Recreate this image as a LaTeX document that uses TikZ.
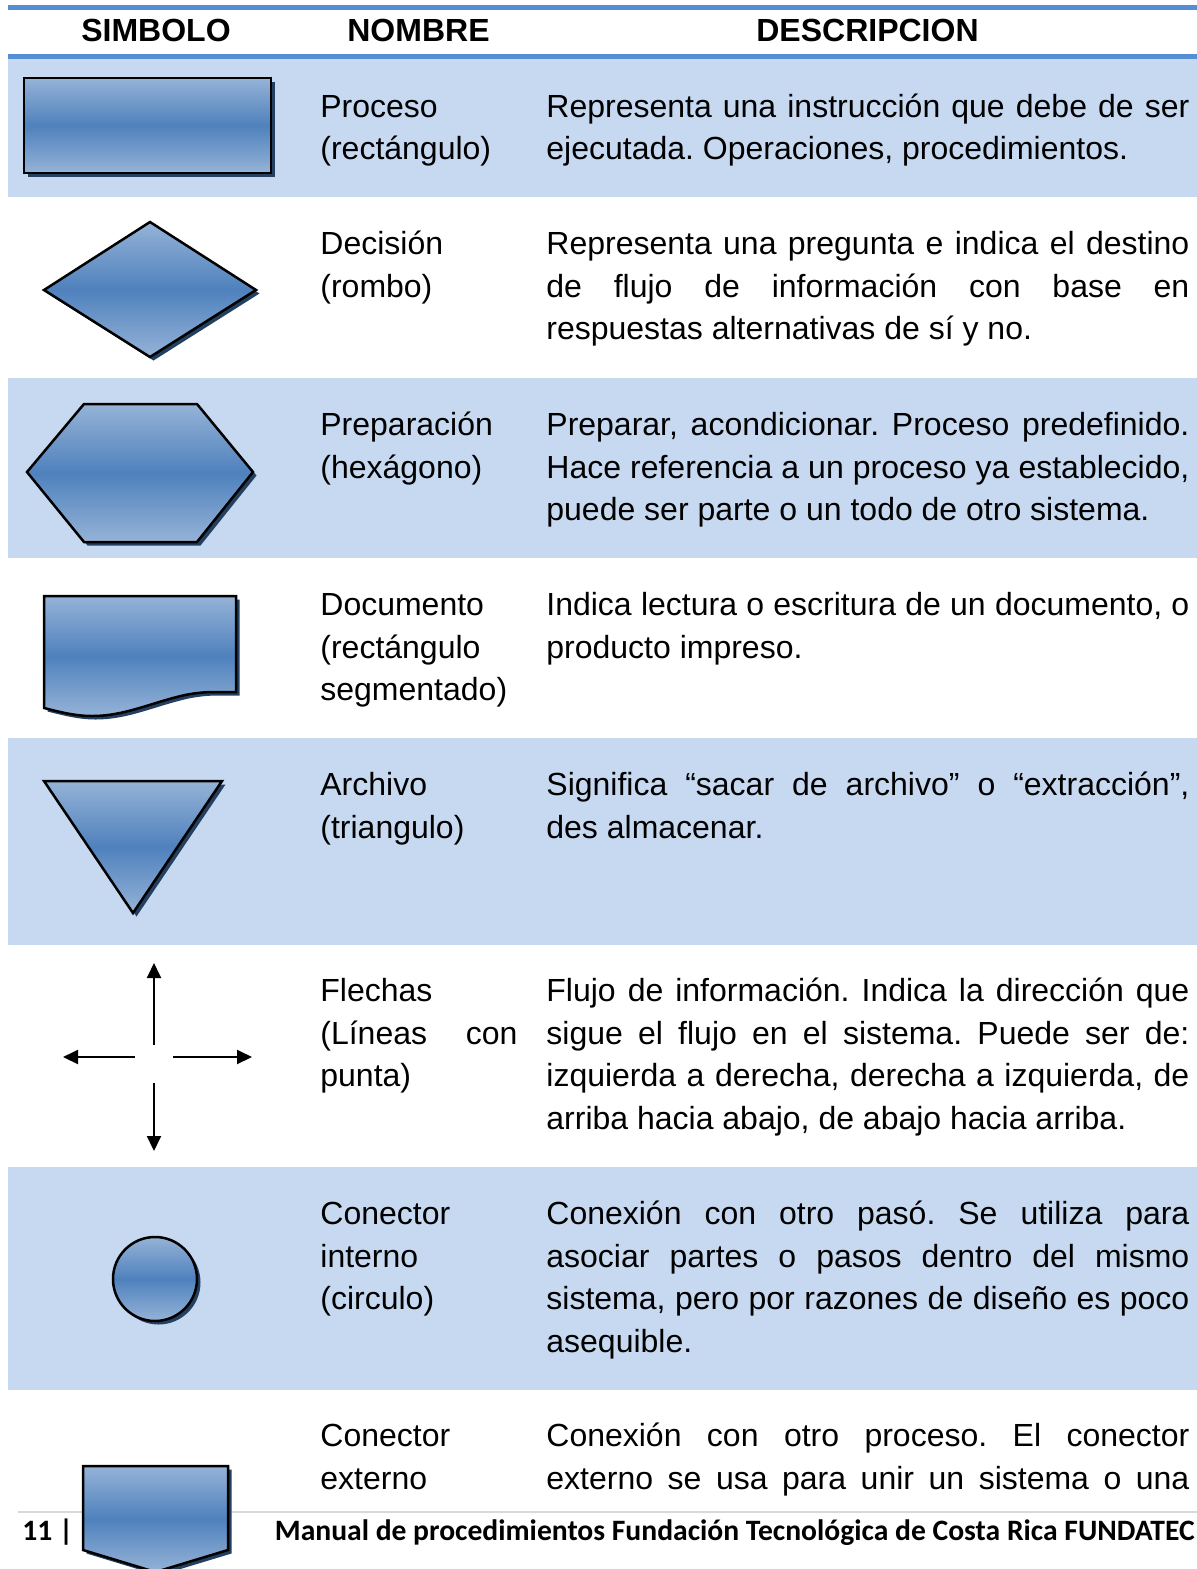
\documentclass[tikz,border=0pt]{standalone}
\usepackage{fontspec}
\setmainfont{Liberation Sans}
\newfontfamily\calibrifont{Carlito}
\usetikzlibrary{arrows.meta}
\definecolor{hdrblue}{RGB}{85,142,213}
\definecolor{bandblue}{RGB}{198,217,241}
\definecolor{shlight}{RGB}{149,179,215}
\definecolor{shdark}{RGB}{79,129,189}
\definecolor{shadowc}{RGB}{36,64,97}
\definecolor{footgrey}{RGB}{217,217,217}
\newcommand{\looseparams}{\tolerance=10000 \hyphenpenalty=10000 \frenchspacing}
\tikzset{
  bandrow/.style={fill=bandblue},
  hdrline/.style={draw=hdrblue, line width=2.5pt},
  symb/.style={draw=black, line width=1.25pt, line join=miter, top color=shlight, bottom color=shlight, middle color=shdark},
  shadowfill/.style={fill=shadowc, shift={(3.5,3.5)}},
  arr/.style={line width=1pt, -{Triangle[length=7.5pt,width=7pt]}},
  hdrtext/.style={anchor=base, inner sep=0pt, font=\fontsize{16}{19}\selectfont\bfseries},
  namecol/.style={anchor=base west, inner sep=0pt, text width=98.5pt, align=justify,
    font=\fontsize{16}{21.25}\selectfont, execute at begin node=\looseparams},
  desccol/.style={anchor=base west, inner sep=0pt, text width=321.5pt, align=justify,
    font=\fontsize{16}{21.25}\selectfont, execute at begin node=\looseparams},
  foottext/.style={inner sep=0pt, font=\calibrifont\bfseries\fontsize{14.8}{17}\selectfont}
}
\begin{document}
\begin{tikzpicture}[x=0.5pt,y=-0.5pt]
\useasboundingbox (0,0) rectangle (1197,1569);
\clip (0,0) rectangle (1197,1569);
\fill[white] (0,0) rectangle (1197,1569);
% bands
\fill[bandrow] (8,58) rectangle (1197,197);
\fill[bandrow] (8,378) rectangle (1197,558);
\fill[bandrow] (8,738) rectangle (1197,945);
\fill[bandrow] (8,1167) rectangle (1197,1390);
% header lines
\draw[hdrline] (8,7.5) -- (1197,7.5);
\draw[hdrline] (8,56) -- (1197,56);
% header text
\node[hdrtext] (hs) at (156,41.5) {SIMBOLO};
\node[hdrtext] (hn) at (418.5,41.5) {NOMBRE};
\node[hdrtext] (hd) at (867.5,41.5) {DESCRIPCION};
% footer line
\draw[footgrey, line width=1pt] (18,1512) -- (1197,1512);
% 1 rectangle
\fill[shadowfill] (24,78) rectangle (271,173);
\draw[symb] (24,78) rectangle (271,173);
% 2 diamond
\fill[shadowfill] (44,290) -- (150,222) -- (256,290) -- (150,357) -- cycle;
\draw[symb] (44,290) -- (150,222) -- (256,290) -- (150,357) -- cycle;
% 3 hexagon
\fill[shadowfill] (27,472) -- (84,404) -- (197,404) -- (253,472) -- (197,542) -- (84,542) -- cycle;
\draw[symb] (27,472) -- (84,404) -- (197,404) -- (253,472) -- (197,542) -- (84,542) -- cycle;
% 4 document
\fill[shadowfill] (44,596) -- (236,596) -- (236,692) -- (215,692) .. controls (205,692) and (195,693) .. (185,695) .. controls (150,703) and (125,716) .. (92,716) .. controls (75,716) and (60,712) .. (44,708) -- cycle;
\draw[symb] (44,596) -- (236,596) -- (236,692) -- (215,692) .. controls (205,692) and (195,693) .. (185,695) .. controls (150,703) and (125,716) .. (92,716) .. controls (75,716) and (60,712) .. (44,708) -- cycle;
% 5 triangle
\fill[shadowfill] (44,781) -- (222,781) -- (133,913) -- cycle;
\draw[symb] (44,781) -- (222,781) -- (133,913) -- cycle;
% 6 arrows
\coordinate (upA) at (154,1045);
\coordinate (upB) at (154,963);
\coordinate (dnA) at (154,1083);
\coordinate (dnB) at (154,1151);
\coordinate (lfA) at (135,1057);
\coordinate (lfB) at (63,1057);
\coordinate (rtA) at (173,1057);
\coordinate (rtB) at (252,1057);
\draw[arr] (upA) -- (upB);
\draw[arr] (dnA) -- (dnB);
\draw[arr] (lfA) -- (lfB);
\draw[arr] (rtA) -- (rtB);
% 7 circle
\fill[shadowfill] (155,1279) circle[radius=42];
\draw[symb] (155,1279) circle[radius=42];
% 8 off-page connector
\fill[shadowfill] (83,1466) -- (228,1466) -- (228,1550) -- (155.5,1572) -- (83,1550) -- cycle;
\draw[symb] (83,1466) -- (228,1466) -- (228,1550) -- (155.5,1572) -- (83,1550) -- cycle;
% names
\node[namecol] (n1) at (320,117) {Proceso\newline (rectángulo)};
\node[namecol] (n2) at (320,254.5) {Decisión\newline (rombo)};
\node[namecol] (n3) at (320,435.5) {Preparación\newline (hexágono)};
\node[namecol] (n4) at (320,615.5) {Documento\newline (rectángulo\newline segmentado)};
\node[namecol] (n5) at (320,795.5) {Archivo\newline (triangulo)};
\node[namecol] (n6) at (320,1001.5) {Flechas\newline (Líneas con\linebreak punta)};
\node[namecol] (n7) at (320,1224.5) {Conector\newline interno\newline (circulo)};
\node[namecol] (n8) at (320,1446.5) {Conector\newline externo};
% descriptions
\node[desccol] (d1) at (546,117) {Representa una instrucción que debe de ser\linebreak ejecutada. Operaciones, procedimientos.};
\node[desccol] (d2) at (546,254.5) {Representa una pregunta e indica el destino\linebreak de flujo de información con base en\linebreak respuestas alternativas de sí y no.};
\node[desccol] (d3) at (546,435.5) {Preparar, acondicionar. Proceso predefinido.\linebreak Hace referencia a un proceso ya establecido,\linebreak puede ser parte o un todo de otro sistema.};
\node[desccol] (d4) at (546,615.5) {Indica lectura o escritura de un documento, o\linebreak producto impreso.};
\node[desccol] (d5) at (546,795.5) {Significa “sacar de archivo” o “extracción”,\linebreak des almacenar.};
\node[desccol] (d6) at (546,1001.5) {Flujo de información. Indica la dirección que\linebreak sigue el flujo en el sistema. Puede ser de:\linebreak izquierda a derecha, derecha a izquierda, de\linebreak arriba hacia abajo, de abajo hacia arriba.};
\node[desccol] (d7) at (546,1224.5) {Conexión con otro pasó. Se utiliza para\linebreak asociar partes o pasos dentro del mismo\linebreak sistema, pero por razones de diseño es poco\linebreak asequible.};
\node[desccol] (d8) at (546,1446.5) {Conexión con otro proceso. El conector\linebreak externo se usa para unir un sistema o una\parfillskip=0pt\par};
% footer
\node[foottext, anchor=base west] (pg) at (22,1540) {11 |};
\node[foottext, anchor=base east] (ft) at (1195,1540) {Manual de procedimientos Fundación Tecnológica de Costa Rica FUNDATEC};
\end{tikzpicture}
\end{document}
